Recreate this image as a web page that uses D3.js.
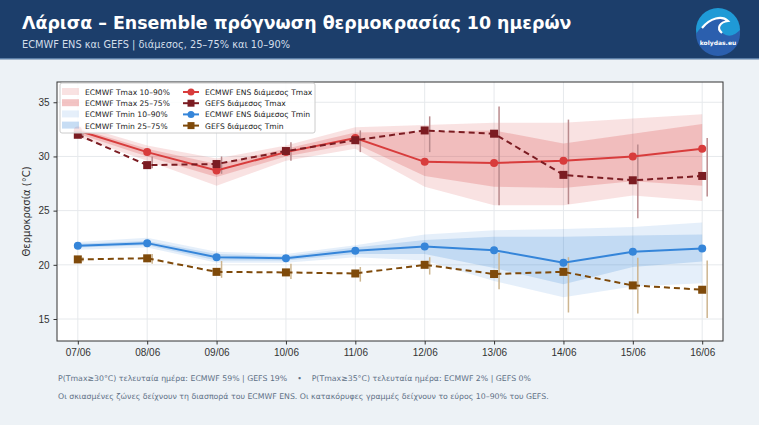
<!DOCTYPE html>
<html>
<head>
<meta charset="utf-8">
<script src="https://cdn.jsdelivr.net/npm/d3@7"></script>
<style>
  body { margin: 0; background: #edf2f6; }
  svg { display: block; font-family: 'DejaVu Sans', sans-serif; }
  .grid line { stroke: #e6e9ec; stroke-width: 1; }
  .axis text { fill: #333; font-size: 9.5px; }
  .axis line, .axis path { stroke: #333; }
  .pre { white-space: pre; }
</style>
</head>
<body>
<div class="container"></div>
<script>
// dates (x categories)
var days = ['07/06', '08/06', '09/06', '10/06', '11/06', '12/06', '13/06', '14/06', '15/06', '16/06']

// ECMWF ENS Tmax
var ecTmaxMed = [32.4, 30.4, 28.7, 30.4, 31.7, 29.5, 29.4, 29.6, 30.0, 30.7]
var ecTmaxP10 = [31.8, 29.6, 27.3, 29.6, 30.7, 27.2, 25.5, 25.5, 26.4, 25.9]
var ecTmaxP25 = [32.1, 30.0, 28.1, 30.0, 31.2, 28.2, 27.2, 27.1, 27.7, 27.3]
var ecTmaxP75 = [32.6, 30.7, 29.3, 30.7, 32.2, 32.3, 32.4, 31.2, 32.1, 33.0]
var ecTmaxP90 = [32.9, 31.0, 29.8, 31.0, 32.7, 32.9, 33.1, 33.1, 33.5, 33.9]

// GEFS Tmax
var gfTmaxMed = [32.0, 29.2, 29.3, 30.5, 31.5, 32.4, 32.1, 28.3, 27.8, 28.2]
var gfTmaxP10 = [31.7, 28.9, 28.4, 29.6, 30.4, 30.4, 25.5, 25.6, 24.3, 26.3]
var gfTmaxP90 = [32.4, 30.0, 30.0, 31.3, 32.4, 33.7, 34.6, 33.4, 31.1, 31.7]

// ECMWF ENS Tmin
var ecTminMed = [21.75, 22.0, 20.7, 20.6, 21.3, 21.7, 21.35, 20.2, 21.2, 21.5]
var ecTminP10 = [21.4, 21.6, 20.2, 20.2, 20.7, 20.4, 18.5, 17.0, 18.0, 18.3]
var ecTminP25 = [21.6, 21.8, 20.4, 20.4, 21.0, 21.0, 19.7, 18.2, 19.8, 20.3]
var ecTminP75 = [21.95, 22.2, 21.0, 20.8, 21.6, 22.3, 22.6, 22.6, 22.7, 22.8]
var ecTminP90 = [22.1, 22.5, 21.2, 21.0, 21.8, 22.8, 23.2, 23.3, 23.5, 23.9]

// GEFS Tmin
var gfTminMed = [20.5, 20.6, 19.35, 19.3, 19.2, 20.0, 19.15, 19.35, 18.1, 17.7]
var gfTminP10 = [20.3, 20.1, 18.8, 18.7, 18.45, 19.1, 17.75, 15.6, 15.5, 15.1]
var gfTminP90 = [20.7, 21.0, 20.35, 20.1, 19.8, 20.7, 21.1, 20.7, 20.65, 20.4]

var yTicks = [15, 20, 25, 30, 35]

var W = 759
var H = 425
var margin = { top: 82, right: 36, bottom: 84, left: 57 }
var width = W - margin.left - margin.right
var height = H - margin.top - margin.bottom

var colors = {
  ecMax: '#d83c3c',
  gfMax: '#7b1c22',
  ecMin: '#3585d9',
  gfMin: '#7f4a0a',
  gfMaxBar: '#b98a8d',
  gfMinBar: '#cdb58f'
}

var svg = d3.select('.container')
            .append('svg')
            .attr('width', W)
            .attr('height', H)

// header band
svg.append('rect').attr('width', W).attr('height', 59).attr('fill', '#1c3e6b')
svg.append('rect').attr('y', 58).attr('width', W).attr('height', 1.5).attr('fill', '#5a7da6')

svg.append('text')
   .attr('x', 22).attr('y', 29)
   .attr('fill', '#ffffff')
   .style('font-size', '17.4px')
   .style('font-weight', 'bold')
   .text('Λάρισα – Ensemble πρόγνωση θερμοκρασίας 10 ημερών')

svg.append('text')
   .attr('x', 22).attr('y', 48)
   .attr('fill', '#d3deea')
   .style('font-size', '9.8px')
   .text('ECMWF ENS και GEFS | διάμεσος, 25–75% και 10–90%')

// logo
var logo = svg.append('g').attr('transform', 'translate(718,30)')
logo.append('circle').attr('r', 22).attr('fill', '#1f9ad6')
logo.append('path')
    .attr('d', 'M-22,4 C-14,-8 -2,-14 8,-10 C2,-6 0,0 6,4 C12,8 18,4 22,0 L22,4 A22,22 0 0 1 -22,4 Z')
    .attr('fill', '#2b5fae')
logo.append('path')
    .attr('d', 'M-16,-2 C-8,-12 4,-15 10,-9 C2,-8 -2,-2 4,3')
    .attr('fill', 'none').attr('stroke', '#ffffff').attr('stroke-width', 2.2)
logo.append('text')
    .attr('y', 15).attr('text-anchor', 'middle')
    .attr('fill', '#ffffff')
    .style('font-size', '6px').style('font-weight', 'bold')
    .text('kolydas.eu')

var g = svg.append('g')
           .attr('transform', 'translate(' + margin.left + ',' + margin.top + ')')

g.append('rect').attr('width', width).attr('height', height).attr('fill', '#ffffff')

var xScale = d3.scalePoint()
               .domain(days)
               .range([0, width])
               .padding(0.3)

var yScale = d3.scaleLinear()
               .domain([12.97, 36.87])
               .range([height, 0])

// grid
g.append('g').attr('class', 'grid')
 .selectAll('line.v').data(days).enter().append('line')
 .attr('x1', function (d) { return xScale(d) })
 .attr('x2', function (d) { return xScale(d) })
 .attr('y1', 0).attr('y2', height)

g.append('g').attr('class', 'grid')
 .selectAll('line.h').data(yTicks).enter().append('line')
 .attr('x1', 0).attr('x2', width)
 .attr('y1', function (d) { return yScale(d) })
 .attr('y2', function (d) { return yScale(d) })

function rows (lo, hi) {
  return days.map(function (d, i) { return { day: d, lo: lo[i], hi: hi[i] } })
}

var area = d3.area()
             .x(function (d) { return xScale(d.day) })
             .y0(function (d) { return yScale(d.lo) })
             .y1(function (d) { return yScale(d.hi) })

function band (lo, hi, color, op) {
  g.append('path')
   .datum(rows(lo, hi))
   .attr('d', area)
   .attr('fill', color)
   .attr('fill-opacity', op)
}

band(ecTmaxP10, ecTmaxP90, colors.ecMax, 0.15)
band(ecTmaxP25, ecTmaxP75, colors.ecMax, 0.22)
band(ecTminP10, ecTminP90, colors.ecMin, 0.13)
band(ecTminP25, ecTminP75, colors.ecMin, 0.2)

// GEFS 10-90 vertical bars, nudged right of the marker
function bars (lo, hi, color) {
  g.append('g')
   .selectAll('line').data(rows(lo, hi)).enter().append('line')
   .attr('x1', function (d) { return xScale(d.day) + 5 })
   .attr('x2', function (d) { return xScale(d.day) + 5 })
   .attr('y1', function (d) { return yScale(d.lo) })
   .attr('y2', function (d) { return yScale(d.hi) })
   .attr('stroke', color)
   .attr('stroke-width', 1.5)
}

bars(gfTmaxP10, gfTmaxP90, colors.gfMaxBar)
bars(gfTminP10, gfTminP90, colors.gfMinBar)

var line = d3.line()
             .x(function (d) { return xScale(d.day) })
             .y(function (d) { return yScale(d.v) })

function series (vals, color, dashed, marker) {
  var pts = days.map(function (d, i) { return { day: d, v: vals[i] } })
  g.append('path')
   .datum(pts)
   .attr('d', line)
   .attr('fill', 'none')
   .attr('stroke', color)
   .attr('stroke-width', 2)
   .attr('stroke-dasharray', dashed ? '6,4' : null)
  var m = g.append('g').selectAll('.m').data(pts).enter()
  if (marker === 'circle') {
    m.append('circle')
     .attr('cx', function (d) { return xScale(d.day) })
     .attr('cy', function (d) { return yScale(d.v) })
     .attr('r', 4)
     .attr('fill', color)
  } else {
    m.append('rect')
     .attr('x', function (d) { return xScale(d.day) - 4 })
     .attr('y', function (d) { return yScale(d.v) - 4 })
     .attr('width', 8).attr('height', 8)
     .attr('fill', color)
  }
}

series(ecTmaxMed, colors.ecMax, false, 'circle')
series(ecTminMed, colors.ecMin, false, 'circle')
series(gfTmaxMed, colors.gfMax, true, 'square')
series(gfTminMed, colors.gfMin, true, 'square')

// axes
g.append('g')
 .attr('class', 'axis')
 .attr('transform', 'translate(0,' + height + ')')
 .call(d3.axisBottom(xScale).tickSize(3.5).tickPadding(4))
 .select('.domain').remove()

g.append('g')
 .attr('class', 'axis')
 .call(d3.axisLeft(yScale).tickValues(yTicks).tickSize(3.5).tickPadding(4))
 .select('.domain').remove()

g.selectAll('.axis text').style('font-size', '10px')

g.append('rect')
 .attr('width', width).attr('height', height)
 .attr('fill', 'none').attr('stroke', '#333').attr('stroke-width', 1)

svg.append('text')
   .attr('transform', 'translate(30,' + (margin.top + height / 2) + ') rotate(-90)')
   .attr('text-anchor', 'middle')
   .attr('fill', '#333')
   .style('font-size', '10px')
   .text('Θερμοκρασία (°C)')

// legend
var leg = g.append('g').attr('transform', 'translate(3,1)')
leg.append('rect')
   .attr('width', 255).attr('height', 50).attr('rx', 2)
   .attr('fill', '#ffffff').attr('fill-opacity', 0.85)
   .attr('stroke', '#cccccc')

var patchItems = [
  { label: 'ECMWF Tmax 10–90%', color: colors.ecMax, op: 0.15 },
  { label: 'ECMWF Tmax 25–75%', color: colors.ecMax, op: 0.3 },
  { label: 'ECMWF Tmin 10–90%', color: colors.ecMin, op: 0.13 },
  { label: 'ECMWF Tmin 25–75%', color: colors.ecMin, op: 0.28 }
]
var lineItems = [
  { label: 'ECMWF ENS διάμεσος Tmax', color: colors.ecMax, marker: 'circle' },
  { label: 'GEFS διάμεσος Tmax', color: colors.gfMax, marker: 'square' },
  { label: 'ECMWF ENS διάμεσος Tmin', color: colors.ecMin, marker: 'circle' },
  { label: 'GEFS διάμεσος Tmin', color: colors.gfMin, marker: 'square' }
]

var pRow = leg.selectAll('.prow').data(patchItems).enter().append('g')
              .attr('transform', function (d, i) { return 'translate(2,' + (9 + i * 11.2) + ')' })
pRow.append('rect')
    .attr('x', 0).attr('y', -4).attr('width', 17).attr('height', 7)
    .attr('fill', function (d) { return d.color })
    .attr('fill-opacity', function (d) { return d.op })
pRow.append('text')
    .attr('x', 23).attr('y', 3)
    .attr('fill', '#222').style('font-size', '7.6px')
    .text(function (d) { return d.label })

var lRow = leg.selectAll('.lrow').data(lineItems).enter().append('g')
              .attr('transform', function (d, i) { return 'translate(123,' + (9 + i * 11.2) + ')' })
lRow.append('line')
    .attr('x1', 0).attr('x2', 16).attr('y1', 0).attr('y2', 0)
    .attr('stroke', function (d) { return d.color }).attr('stroke-width', 2)
lRow.each(function (d) {
  var s = d3.select(this)
  if (d.marker === 'circle') {
    s.append('circle').attr('cx', 8).attr('r', 3.5).attr('fill', d.color)
  } else {
    s.append('rect').attr('x', 4.5).attr('y', -3.5).attr('width', 7).attr('height', 7).attr('fill', d.color)
  }
})
lRow.append('text')
    .attr('x', 22).attr('y', 3)
    .attr('fill', '#222').style('font-size', '7.6px')
    .text(function (d) { return d.label })

// footer notes
svg.append('text')
   .attr('class', 'pre')
   .attr('x', 58).attr('y', 381)
   .attr('fill', '#5f7186')
   .style('font-size', '7.8px')
   .text('P(Tmax≥30°C) τελευταία ημέρα: ECMWF 59% | GEFS 19%    •    P(Tmax≥35°C) τελευταία ημέρα: ECMWF 2% | GEFS 0%')

svg.append('text')
   .attr('x', 58).attr('y', 399)
   .attr('fill', '#5f7186')
   .style('font-size', '7.8px')
   .text('Οι σκιασμένες ζώνες δείχνουν τη διασπορά του ECMWF ENS. Οι κατακόρυφες γραμμές δείχνουν το εύρος 10–90% του GEFS.')
</script>
</body>
</html>
